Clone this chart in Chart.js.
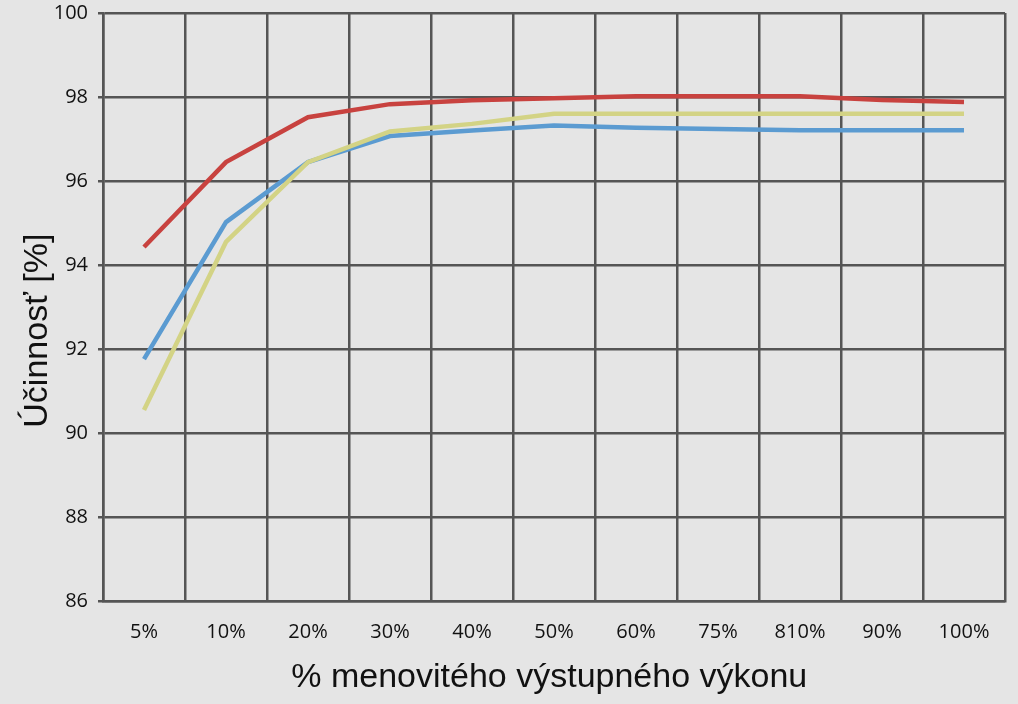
<!DOCTYPE html>
<html>
<head>
<meta charset="utf-8">
<script src="https://cdn.jsdelivr.net/npm/chart.js@4/dist/chart.umd.min.js"></script>
<style>
  html, body { margin: 0; padding: 0; background: #e5e5e5; }
  #wrap { width: 1018px; height: 704px; }
</style>
</head>
<body>
<div id="wrap"><canvas id="chart" width="1018" height="704"></canvas></div>
<script>
const categories = ['5%', '10%', '20%', '30%', '40%', '50%', '60%', '75%', '810%', '90%', '100%'];
const redValues = [94.43, 96.45, 97.52, 97.83, 97.92, 97.97, 98.02, 98.02, 98.02, 97.93, 97.88];
const yellowValues = [90.55, 94.55, 96.45, 97.18, 97.36, 97.6, 97.6, 97.6, 97.6, 97.6, 97.6];
const blueValues = [91.76, 95.02, 96.45, 97.07, 97.2, 97.32, 97.27, 97.24, 97.21, 97.21, 97.21];
const yTicks = [86, 88, 90, 92, 94, 96, 98, 100];

const gridColor = '#555555';
const tickFont = { family: '"Open Sans", "DejaVu Sans", sans-serif', size: 20 };
const titleFont = { family: '"Liberation Sans", Arial, sans-serif', size: 34 };
const NB = '\u00a0';

function line(data, color) {
  return { data, borderColor: color, backgroundColor: color, borderWidth: 4.5, pointRadius: 0, tension: 0, fill: false };
}

new Chart(document.getElementById('chart'), {
  type: 'line',
  data: {
    labels: categories,
    datasets: [
      line(redValues, '#c8423f'),
      line(yellowValues, '#d3d385'),
      line(blueValues, '#5b9bd1')
    ]
  },
  options: {
    responsive: false,
    animation: false,
    layout: { padding: { top: 13, right: 13, left: 0, bottom: 0 } },
    plugins: { legend: { display: false }, tooltip: { enabled: false } },
    scales: {
      x: {
        offset: true,
        grid: { offset: true, color: gridColor, lineWidth: 2.5, drawTicks: false },
        border: { color: gridColor, width: 2.5 },
        ticks: { color: '#111', font: tickFont, padding: 19, maxRotation: 0, autoSkip: false },
        title: { display: true, text: '% menovitého výstupného výkonu' + NB, color: '#111', font: titleFont, padding: { top: 10, bottom: 6 } },
        afterFit: s => { s.height = 103; s.paddingLeft = 0; s.paddingRight = 0; }
      },
      y: {
        min: 86, max: 100,
        afterBuildTicks: s => { s.ticks = yTicks.map(v => ({ value: v })); },
        grid: { color: gridColor, lineWidth: 2.5, tickLength: 5 },
        border: { color: gridColor, width: 2.5 },
        ticks: { color: '#111', font: tickFont, padding: 10 },
        title: { display: true, text: 'Účinnosť [%]' + NB.repeat(5), color: '#111', font: titleFont, padding: { top: 17, bottom: 4 } },
        afterFit: s => { s.width = 103; s.paddingTop = 0; s.paddingBottom = 0; }
      }
    }
  }
});
</script>
</body>
</html>
